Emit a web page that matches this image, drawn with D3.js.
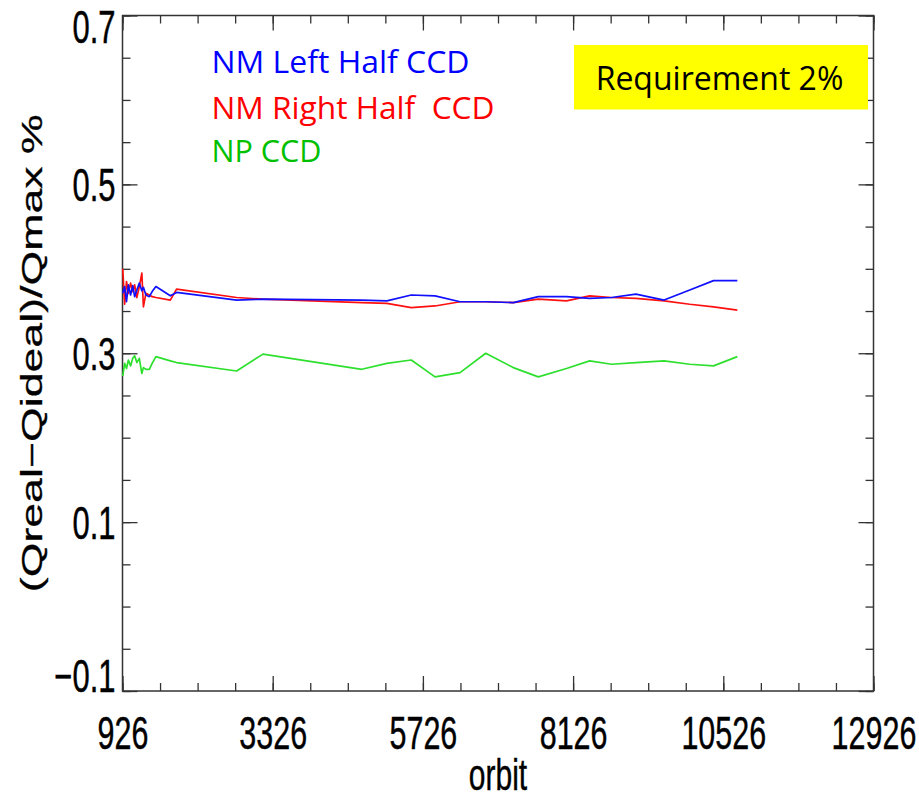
<!DOCTYPE html>
<html>
<head>
<meta charset="utf-8">
<script src="https://cdn.jsdelivr.net/npm/d3@7/dist/d3.min.js"></script>
<style>
  html, body { margin: 0; padding: 0; background: #fff; }
  svg { display: block; }
</style>
</head>
<body>
<svg id="chart" width="919" height="798"></svg>
<script>
// Orbit numbers shared by all three curves
const orbits = [930, 960, 990, 1020, 1055, 1090, 1120, 1155, 1195, 1235, 1260, 1300, 1355, 1400, 1460,
  1690, 1790, 2750, 3170, 4750, 5150, 5540, 5920, 6320, 6730, 7170, 7570, 8020, 8390, 8740,
  9130, 9580, 9990, 10370, 10750];

// (Qreal-Qideal)/Qmax %, one value per orbit
const nmLeft = [0.371, 0.379, 0.361, 0.381, 0.369, 0.380, 0.367, 0.375, 0.383, 0.374, 0.378, 0.369, 0.367, 0.373, 0.379,
  0.368, 0.372, 0.363, 0.364, 0.363, 0.362, 0.369, 0.368, 0.361, 0.361, 0.360, 0.367, 0.367, 0.365, 0.366,
  0.370, 0.363, 0.375, 0.386, 0.386];
const nmRight = [0.400, 0.358, 0.385, 0.371, 0.383, 0.373, 0.381, 0.366, 0.379, 0.395, 0.355, 0.371, 0.369, 0.367, 0.366,
  0.363, 0.376, 0.366, 0.364, 0.360, 0.359, 0.354, 0.356, 0.361, 0.361, 0.360, 0.364, 0.362, 0.368, 0.366,
  0.365, 0.362, 0.358, 0.355, 0.351];
const npCcd = [0.273, 0.288, 0.282, 0.292, 0.285, 0.294, 0.297, 0.289, 0.294, 0.276, 0.283, 0.281, 0.281, 0.288, 0.296,
  0.291, 0.289, 0.279, 0.299, 0.281, 0.288, 0.292, 0.272, 0.277, 0.300, 0.283, 0.272, 0.282, 0.291, 0.287,
  0.289, 0.291, 0.287, 0.285, 0.296];

const seriesNames = ["NM Left Half CCD", "NM Right Half  CCD", "NP CCD"];

// Axis ticks
const xDomain = [926, 12926];
const xMajorTicks = [926, 3326, 5726, 8126, 10526, 12926];
const xMinorStep = 600;
const yDomain = [-0.1, 0.7];
const yMajorTicks = [-0.1, 0.1, 0.3, 0.5, 0.7];
const yMinorStep = 0.05;

const requirementText = "Requirement 2%";
const xTitle = "orbit";
const yTitle = "(Qreal\u2212Qideal)/Qmax %";

// ---- layout ----
const W = 919, H = 798;
const m = { left: 122.5, right: 45.5, top: 15.5, bottom: 107 };
const x0 = m.left, x1 = W - m.right, y0 = m.top, y1 = H - m.bottom;
const stretch = 1.49;           // tall axis lettering
const axisFont = "'Liberation Sans', Arial, sans-serif";

const svg = d3.select("#chart");
const x = d3.scaleLinear().domain(xDomain).range([x0, x1]);
const y = d3.scaleLinear().domain(yDomain).range([y1, y0]);

const xMinor = d3.range(xDomain[0], xDomain[1] + 1, xMinorStep);
const yMinor = d3.range(Math.round((yDomain[1] - yDomain[0]) / yMinorStep) + 1)
  .map(i => +(yDomain[0] + i * yMinorStep).toFixed(2));

const frameColor = "#333";

function styleAxis(g) {
  g.select(".domain").remove();
  g.selectAll(".tick line").attr("stroke", frameColor).attr("stroke-width", 1.3);
}

// minor + major ticks on all four sides, pointing inward
const sides = [
  { make: d3.axisBottom, sc: x, pos: `translate(0,${y1})`, minor: xMinor, major: xMajorTicks },
  { make: d3.axisTop, sc: x, pos: `translate(0,${y0})`, minor: xMinor, major: xMajorTicks },
  { make: d3.axisLeft, sc: y, pos: `translate(${x0},0)`, minor: yMinor, major: yMajorTicks },
  { make: d3.axisRight, sc: y, pos: `translate(${x1},0)`, minor: yMinor, major: yMajorTicks }
];
sides.forEach(s => {
  svg.append("g").attr("transform", s.pos)
    .call(s.make(s.sc).tickValues(s.minor).tickSize(-8).tickSizeOuter(0).tickFormat(""))
    .call(styleAxis);
  svg.append("g").attr("transform", s.pos)
    .call(s.make(s.sc).tickValues(s.major).tickSize(-15).tickSizeOuter(0).tickFormat(""))
    .call(styleAxis);
});

// bottom labels
const xLab = svg.append("g").attr("transform", `translate(0,${y1})`)
  .call(d3.axisBottom(x).tickValues(xMajorTicks).tickSize(0).tickFormat(d3.format("d")));
xLab.select(".domain").remove();
xLab.selectAll(".tick text")
  .attr("y", null).attr("dy", null)
  .attr("transform", `translate(0,58) scale(1,${stretch})`)
  .attr("font-family", axisFont).attr("font-size", 30.5).attr("fill", "#000")
  .attr("stroke", "#000").attr("stroke-width", 0.3);

// left labels (kept inside the frame's vertical extent)
const yLab = svg.append("g").attr("transform", `translate(${x0},0)`)
  .call(d3.axisLeft(y).tickValues(yMajorTicks).tickSize(0).tickFormat(d3.format(".1f")));
yLab.select(".domain").remove();
yLab.selectAll(".tick text")
  .attr("x", -7).attr("dy", null)
  .attr("transform", d => {
    const ty = y(d);
    const base = Math.min(Math.max(ty + 16, y0 + 26.5), y1 + 0.7);
    return `translate(0,${base - ty}) scale(1,${stretch})`;
  })
  .attr("font-family", axisFont).attr("font-size", 31).attr("fill", "#000")
  .attr("stroke", "#000").attr("stroke-width", 0.3);

// frame
svg.append("rect").attr("x", x0).attr("y", y0).attr("width", x1 - x0).attr("height", y1 - y0)
  .attr("fill", "none").attr("stroke", frameColor).attr("stroke-width", 1.5);

// axis titles
svg.append("text").attr("transform", `translate(${(x0 + x1) / 2},790) scale(1,${stretch})`)
  .attr("text-anchor", "middle").attr("font-family", axisFont).attr("font-size", 30)
  .attr("stroke", "#000").attr("stroke-width", 0.3)
  .text(xTitle);
svg.append("text").attr("transform", `translate(42,${(y0 + y1) / 2}) rotate(-90) scale(${stretch},1)`)
  .attr("text-anchor", "middle").attr("font-family", axisFont).attr("font-size", 30)
  .attr("stroke", "#000").attr("stroke-width", 0.3)
  .text(yTitle);

// curves
const line = d3.line().x(d => x(d[0])).y(d => y(d[1]));
const curves = [
  { vals: npCcd, color: "#2ee02e" },
  { vals: nmRight, color: "#ff1010" },
  { vals: nmLeft, color: "#1010ff" }
];
curves.forEach(c => {
  svg.append("path").datum(orbits.map((o, i) => [o, c.vals[i]]))
    .attr("d", line).attr("fill", "none").attr("stroke", c.color)
    .attr("stroke-width", 1.7).attr("stroke-linejoin", "round");
});

// legend
const legendFont = "'Open Sans', 'Noto Sans', sans-serif";
const legendColors = ["#0000ff", "#ff0000", "#00c000"];
const legendBase = [73, 118.5, 162];
const legendLen = [258, 283, 110];
seriesNames.forEach((n, i) => {
  svg.append("text").attr("x", 211.5).attr("y", legendBase[i])
    .attr("font-family", legendFont).attr("font-size", 31)
    .attr("fill", legendColors[i]).attr("xml:space", "preserve")
    .style("white-space", "pre")
    .attr("textLength", legendLen[i]).attr("lengthAdjust", "spacingAndGlyphs")
    .text(n);
});

// requirement box
svg.append("rect").attr("x", 574).attr("y", 45).attr("width", 294).attr("height", 64.5)
  .attr("fill", "#ffff00");
svg.append("text").attr("x", 719.5).attr("y", 90).attr("text-anchor", "middle")
  .attr("font-family", legendFont).attr("font-size", 32).attr("fill", "#000")
  .text(requirementText);
</script>
</body>
</html>
